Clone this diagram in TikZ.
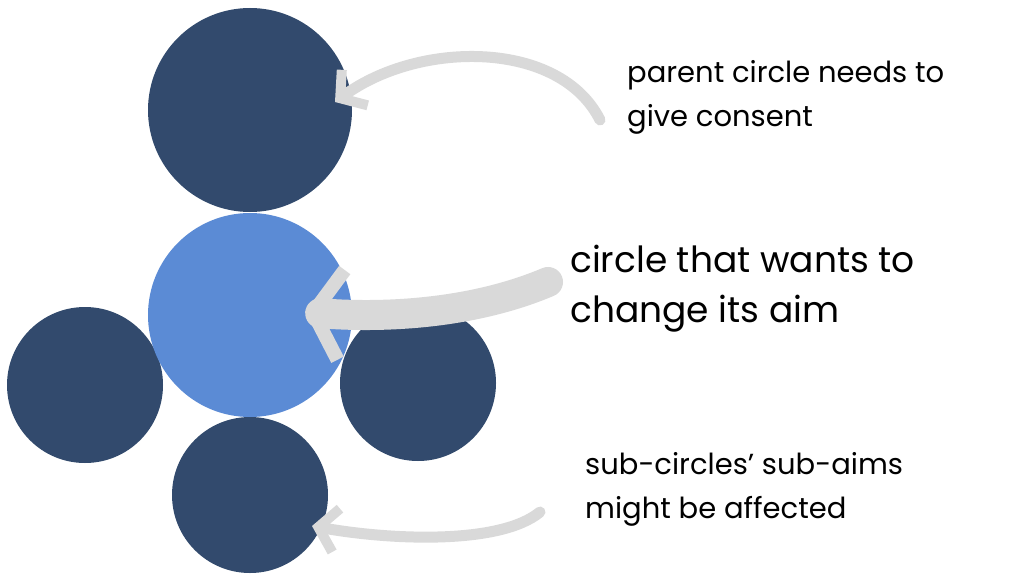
\documentclass[tikz,border=0pt]{standalone}
\usepackage{fontspec}
\setmainfont{Poppins}
\usetikzlibrary{arrows.meta}
\definecolor{dk}{HTML}{324A6D}
\definecolor{lt}{HTML}{5B8BD5}
\definecolor{gr}{HTML}{D9D9D9}
\tikzset{dark/.style={fill=dk,draw=none},light/.style={fill=lt,draw=none},
 garrow/.style={draw=gr,line cap=round,-{Straight Barb[length=18pt,width=44pt,line width=10pt]}},
 lbl/.style={anchor=north west,align=left,inner sep=0pt,text=black}}
\begin{document}
\begin{tikzpicture}[x=1pt,y=-1pt]
\useasboundingbox (0,0) rectangle (1024,580);
\fill[white] (0,0) rectangle (1024,580);
\fill[dark] (250,110) circle (102);
\fill[dark] (85,385) circle (78);
\fill[dark] (418,383) circle (78);
\fill[dark] (250,495) circle (78);
\fill[light] (250,315) circle (102);
\coordinate (a1) at (600,120); \coordinate (b1) at (335,102);
\draw[garrow,line width=11pt] (a1) .. controls (560,40) and (420,40) .. (b1);
\coordinate (a2) at (548,282); \coordinate (b2) at (305,312);
\draw[garrow,line width=30pt,-{Straight Barb[length=28pt,width=90pt,line width=14pt]}] (a2) .. controls (470,315) and (380,318) .. (b2);
\coordinate (a3) at (540,512); \coordinate (b3) at (312,526);
\draw[garrow,line width=11pt] (a3) .. controls (500,545) and (390,540) .. (b3);
\node[lbl,font=\fontsize{29}{44}\selectfont] (t1) at (627,60) {parent circle needs to\\give consent};
\node[lbl,font=\fontsize{36}{50}\selectfont] (t2) at (570,245) {circle that wants to\\change its aim};
\node[lbl,font=\fontsize{29}{44}\selectfont] (t3) at (585,452) {sub-circles' sub-aims\\might be affected};
\end{tikzpicture}
\end{document}
